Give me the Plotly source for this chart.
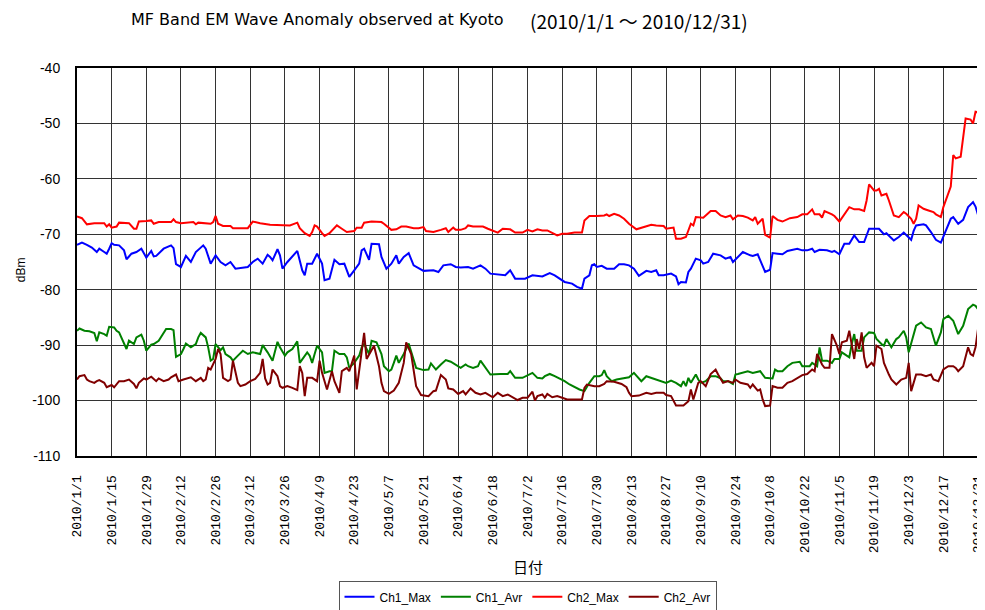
import pandas as pd
import plotly.graph_objects as go

START = "2010-01-01"

# Ch1_Max (blue)
ch1_max_day = [0,2,4,6,8,9,11,12,13,14,15,17,19,20,21,22,24,26,28,30,31,32,35,38,39,40,42,43,44,46,48,51,52,54,56,58,60,62,64,69,71,73,75,77,78,79,81,82,83,85,87,89,91,92,93,95,97,99,100,102,104,106,108,110,112,114,115,116,118,119,122,123,125,127,129,130,132,134,136,140,144,146,148,151,153,155,158,160,163,165,167,171,173,175,177,181,184,188,189,191,193,195,197,200,202,204,205,207,208,209,210,212,214,217,219,221,223,225,227,230,232,234,235,237,240,242,243,244,246,247,248,250,252,253,255,257,260,262,264,265,267,269,272,273,275,277,278,280,281,283,285,287,289,291,293,295,297,298,300,301,303,305,306,308,309,310,312,314,316,318,320,322,324,326,327,330,332,334,335,337,338,339,342,343,345,347,349,350,353,354,356,358,360,362,363,364]
ch1_max_dbm = [-71.9,-71.5,-71.9,-72.4,-73.2,-72.6,-73.2,-73.5,-72.6,-71.6,-71.9,-72.0,-72.9,-74.5,-74.0,-73.5,-73.2,-72.6,-74.2,-73.0,-74.0,-73.9,-72.6,-72.0,-72.5,-75.4,-75.9,-75.0,-73.9,-75.0,-73.2,-72.0,-72.6,-75.3,-73.8,-75.0,-75.6,-75.0,-76.2,-75.9,-75.0,-74.4,-75.3,-73.7,-74.1,-74.7,-72.7,-73.8,-76.2,-75.0,-74.0,-73.0,-76.5,-77.4,-75.3,-75.3,-73.5,-75.3,-78.3,-78.0,-74.6,-75.4,-75.3,-77.7,-76.5,-75.3,-72.9,-72.6,-74.6,-71.7,-71.8,-74.1,-76.2,-75.3,-73.8,-75.3,-74.1,-73.4,-75.6,-76.6,-76.5,-76.8,-75.6,-75.4,-75.9,-76.0,-75.9,-76.2,-75.6,-76.2,-77.1,-77.3,-77.4,-76.5,-78.0,-78.0,-77.4,-77.6,-77.4,-77.0,-77.4,-78.0,-78.6,-78.9,-79.5,-79.8,-78.0,-77.4,-75.6,-75.4,-75.9,-75.7,-76.2,-76.2,-75.4,-75.4,-75.6,-76.2,-77.5,-76.6,-76.8,-76.5,-77.4,-77.4,-77.1,-77.6,-79.0,-78.6,-78.7,-76.8,-76.2,-74.4,-74.7,-75.3,-75.0,-73.5,-73.8,-74.4,-74.1,-75.0,-74.0,-73.2,-73.8,-73.9,-73.6,-75.9,-76.8,-76.4,-73.4,-73.5,-73.6,-73.0,-72.8,-72.6,-72.9,-72.9,-72.6,-73.2,-72.8,-72.8,-72.9,-73.2,-73.0,-73.6,-72.6,-71.7,-71.7,-70.2,-71.4,-71.4,-69.0,-69.0,-69.0,-70.0,-69.8,-71.1,-70.5,-69.7,-70.1,-71.0,-69.4,-68.4,-68.2,-68.4,-69.6,-71.0,-71.5,-70.5,-67.2,-66.9,-68.1,-67.4,-65.1,-64.2,-65.0,-66.5]

# Ch1_Avr (green)
ch1_avr_day = [0,1,3,5,7,8,9,11,12,13,15,16,17,19,20,21,23,24,26,27,28,30,31,33,35,36,38,39,40,42,43,44,46,48,49,50,52,53,54,55,56,58,59,60,62,63,65,67,69,71,74,75,77,79,81,82,84,85,87,89,90,91,93,94,95,96,97,99,100,102,103,104,106,108,109,110,112,114,115,116,118,119,121,123,124,126,127,128,129,130,132,134,135,137,140,142,143,145,147,149,151,153,155,157,158,160,162,163,165,167,171,174,175,177,180,184,186,188,189,191,193,195,197,199,201,203,205,206,207,209,211,212,213,214,216,218,220,222,223,225,227,228,230,232,234,236,238,240,242,244,245,246,247,248,250,251,252,254,256,258,260,261,263,265,266,267,269,271,273,275,276,278,281,282,283,285,287,289,292,293,296,297,299,300,301,303,305,306,308,309,311,312,313,314,315,317,318,320,322,323,325,326,327,329,331,332,334,335,336,338,339,341,343,345,347,349,350,352,354,356,358,360,362,363,364]
ch1_avr_dbm = [-87.4,-87.0,-87.4,-87.5,-87.8,-89.3,-87.7,-88.0,-88.3,-86.7,-86.8,-87.4,-87.7,-89.5,-90.7,-89.2,-89.8,-88.6,-88.1,-89.2,-91.0,-89.9,-89.8,-89.2,-87.9,-87.1,-87.1,-87.3,-92.1,-91.6,-90.7,-89.7,-90.4,-89.8,-88.6,-87.8,-88.6,-90.4,-92.8,-92.5,-89.8,-90.9,-90.4,-91.6,-92.2,-92.8,-91.9,-91.0,-91.6,-91.3,-91.6,-90.0,-91.3,-92.8,-89.4,-90.4,-91.9,-91.3,-90.7,-89.3,-93.2,-92.5,-91.3,-91.9,-93.2,-91.6,-90.1,-91.3,-95.0,-94.7,-94.7,-91.0,-91.6,-91.6,-92.2,-94.1,-93.2,-91.9,-90.4,-89.8,-91.6,-89.2,-89.5,-91.6,-93.8,-94.7,-94.4,-93.2,-91.9,-93.2,-91.6,-89.7,-91.3,-94.1,-94.5,-94.4,-93.3,-94.4,-93.5,-92.7,-93.0,-93.5,-94.1,-93.5,-93.8,-94.1,-93.8,-92.8,-94.1,-95.3,-95.2,-95.2,-94.7,-95.9,-95.9,-95.0,-95.9,-96.0,-95.6,-95.2,-95.6,-96.0,-96.5,-97.1,-97.6,-98.0,-98.3,-97.4,-96.8,-95.6,-95.6,-95.4,-94.5,-95.6,-96.5,-96.2,-96.0,-95.9,-95.8,-95.0,-95.9,-96.5,-95.6,-95.9,-96.2,-96.5,-96.8,-96.4,-96.8,-97.4,-96.5,-97.4,-95.9,-96.8,-95.3,-96.2,-96.8,-96.5,-95.6,-95.6,-96.0,-96.5,-96.5,-97.0,-95.3,-95.2,-95.0,-94.7,-95.0,-94.8,-94.7,-95.9,-96.0,-94.4,-94.7,-94.7,-93.8,-93.2,-93.0,-93.8,-93.8,-93.2,-93.8,-90.4,-92.8,-92.8,-93.2,-92.5,-92.5,-91.3,-91.9,-92.2,-89.8,-88.0,-91.0,-91.0,-88.6,-87.7,-87.8,-88.9,-89.8,-90.1,-88.9,-90.4,-88.9,-88.6,-87.4,-88.6,-91.3,-88.3,-86.5,-85.9,-86.8,-87.1,-90.1,-87.7,-85.3,-84.7,-85.6,-88.0,-86.5,-83.5,-82.7,-82.9,-83.5]

# Ch2_Max (red)
ch2_max_day = [0,2,4,7,11,12,13,14,16,17,21,23,24,25,28,30,31,33,38,39,40,42,47,48,49,54,55,56,57,59,62,63,69,71,74,78,86,89,90,92,94,95,96,97,99,100,102,105,107,109,112,113,115,116,119,123,124,126,127,129,131,133,136,138,140,141,144,147,149,150,152,153,155,157,158,160,164,166,168,170,172,175,177,180,182,184,186,188,190,192,194,196,198,201,204,205,207,210,213,214,215,217,219,221,223,226,229,232,234,237,238,241,242,244,246,248,249,250,253,256,258,260,262,264,265,267,269,271,273,274,275,277,278,280,281,283,285,288,291,293,295,297,298,300,301,302,305,306,308,310,312,314,316,318,319,320,322,323,324,325,327,328,330,332,334,335,337,338,339,340,342,344,346,347,349,350,351,353,354,355,357,359,361,362,363,364]
ch2_max_dbm = [-66.8,-67.1,-68.2,-68.0,-68.0,-68.6,-68.2,-68.8,-68.6,-67.9,-68.0,-69.0,-69.0,-67.7,-67.6,-67.5,-68.1,-67.8,-67.8,-67.3,-67.8,-68.0,-67.8,-68.2,-67.9,-68.1,-67.8,-66.7,-68.1,-68.5,-68.5,-68.9,-68.9,-67.7,-68.0,-68.3,-68.4,-67.9,-68.9,-69.8,-70.3,-69.6,-68.4,-68.6,-69.8,-70.3,-69.8,-68.4,-69.0,-69.6,-69.4,-68.8,-68.8,-67.9,-67.7,-67.8,-68.1,-68.9,-69.2,-69.1,-68.6,-68.6,-68.9,-68.9,-68.7,-69.4,-69.6,-69.2,-68.9,-69.6,-68.8,-69.2,-69.2,-68.9,-68.4,-68.6,-68.6,-69.0,-69.3,-69.7,-69.0,-69.1,-69.7,-69.7,-69.2,-69.5,-69.1,-69.3,-69.3,-69.7,-70.2,-69.9,-69.9,-69.7,-69.7,-67.5,-66.7,-66.7,-66.6,-66.4,-66.7,-66.3,-66.6,-67.2,-68.1,-69.1,-68.7,-68.3,-68.4,-68.5,-69.0,-68.8,-70.8,-70.8,-70.5,-68.1,-68.4,-66.9,-67.0,-65.8,-65.8,-66.6,-66.9,-66.6,-67.3,-66.6,-66.7,-67.0,-67.5,-66.9,-68.1,-67.2,-70.1,-70.6,-66.7,-67.4,-67.7,-67.1,-66.9,-66.4,-66.4,-65.5,-66.4,-66.4,-67.0,-65.8,-66.4,-66.7,-67.7,-66.3,-65.1,-65.5,-65.5,-65.8,-63.9,-61.0,-62.1,-62.1,-61.8,-63.0,-62.7,-63.9,-66.6,-66.9,-66.0,-66.3,-67.2,-68.1,-67.2,-64.8,-65.4,-65.7,-66.0,-66.4,-66.9,-65.1,-63.9,-61.4,-55.7,-56.3,-56.0,-49.1,-49.3,-50.0,-47.9,-48.0]

# Ch2_Avr (dark red)
ch2_avr_day = [0,1,3,4,5,7,8,9,11,12,14,15,17,19,21,23,24,25,27,28,30,32,33,35,37,38,40,41,43,46,48,50,51,52,53,54,56,57,58,59,61,62,63,64,65,66,68,70,72,74,75,76,77,78,79,81,82,83,85,87,89,90,91,92,93,95,97,98,99,101,103,104,106,107,109,110,112,113,114,116,117,118,120,122,123,124,126,128,130,132,133,135,137,139,142,144,145,147,149,150,152,154,156,157,159,161,163,165,168,170,172,174,176,178,180,182,184,185,186,188,189,190,192,194,196,198,204,205,206,209,211,213,214,217,220,222,223,224,227,230,232,234,237,238,240,241,242,245,247,248,249,250,251,252,254,256,258,259,261,263,265,266,268,271,272,273,275,276,277,278,280,281,283,285,287,289,291,293,295,297,298,299,301,302,304,305,307,308,309,311,312,313,314,315,316,317,318,319,321,322,323,325,326,328,329,331,333,335,336,337,339,341,343,345,346,348,350,352,354,355,356,358,360,361,362,363,364]
ch2_avr_dbm = [-96.2,-95.6,-95.4,-96.2,-96.5,-96.8,-96.5,-96.3,-96.8,-97.6,-97.2,-97.6,-96.5,-96.5,-96.2,-97.0,-97.8,-96.8,-96.0,-96.2,-95.7,-96.5,-96.0,-96.5,-96.2,-95.8,-95.3,-96.5,-96.2,-95.8,-96.5,-95.9,-96.5,-96.2,-94.1,-94.4,-92.5,-90.7,-91.6,-95.9,-96.5,-96.2,-92.8,-94.6,-96.8,-97.4,-97.1,-96.5,-96.1,-95.0,-92.5,-96.0,-97.1,-96.8,-94.4,-95.6,-97.4,-97.7,-97.4,-97.7,-98.1,-93.8,-95.0,-99.2,-95.9,-95.9,-96.5,-92.8,-95.0,-98.0,-94.7,-96.5,-98.6,-94.7,-94.1,-94.7,-91.9,-98.0,-94.4,-87.8,-92.5,-91.6,-90.1,-93.8,-96.8,-98.3,-98.8,-98.2,-96.8,-93.2,-89.5,-91.6,-97.4,-99.0,-99.2,-98.3,-98.2,-95.4,-96.2,-97.8,-98.0,-98.8,-98.3,-98.9,-97.8,-98.6,-98.9,-98.6,-99.4,-98.6,-99.2,-98.9,-99.4,-99.9,-99.5,-99.5,-98.4,-100.0,-99.2,-98.9,-99.5,-98.8,-99.4,-99.2,-99.5,-99.8,-99.8,-97.7,-97.1,-97.4,-97.4,-97.0,-96.5,-96.6,-97.0,-97.6,-98.6,-99.2,-99.1,-98.6,-98.8,-98.6,-98.6,-99.0,-99.2,-100.0,-100.9,-100.9,-100.1,-98.0,-99.8,-98.3,-96.8,-96.5,-97.4,-95.2,-94.4,-95.3,-96.8,-96.5,-96.8,-96.2,-96.8,-97.1,-97.7,-97.1,-98.2,-98.0,-99.8,-101.0,-100.9,-97.4,-97.7,-97.7,-96.8,-96.5,-96.0,-95.4,-95.2,-94.4,-94.7,-91.6,-93.5,-94.1,-94.1,-88.0,-90.1,-91.6,-89.5,-89.2,-87.4,-89.8,-92.5,-88.9,-90.7,-87.7,-92.2,-94.1,-93.2,-93.8,-90.1,-90.7,-93.2,-95.3,-96.2,-97.1,-96.2,-95.9,-93.2,-98.3,-95.3,-95.3,-95.6,-95.3,-96.2,-96.5,-94.4,-93.8,-93.8,-94.1,-94.7,-93.8,-90.4,-91.6,-91.9,-90.4,-87.1]

# Axis ticks
x_tick_days = list(range(0, 365, 14))
x_tick_labels = ["2010/1/1", "2010/1/15", "2010/1/29", "2010/2/12", "2010/2/26", "2010/3/12",
                 "2010/3/26", "2010/4/9", "2010/4/23", "2010/5/7", "2010/5/21", "2010/6/4",
                 "2010/6/18", "2010/7/2", "2010/7/16", "2010/7/30", "2010/8/13", "2010/8/27",
                 "2010/9/10", "2010/9/24", "2010/10/8", "2010/10/22", "2010/11/5", "2010/11/19",
                 "2010/12/3", "2010/12/17", "2010/12/31"]
y_tick_vals = [-40, -50, -60, -70, -80, -90, -100, -110]
y_tick_labels = ["-40", "-50", "-60", "-70", "-80", "-90", "-100", "-110"]


def to_dates(days):
    return pd.Timestamp(START) + pd.to_timedelta(days, unit="D")


series = [
    ("Ch1_Max", ch1_max_day, ch1_max_dbm, "#0000FF"),
    ("Ch1_Avr", ch1_avr_day, ch1_avr_dbm, "#008000"),
    ("Ch2_Max", ch2_max_day, ch2_max_dbm, "#FF0000"),
    ("Ch2_Avr", ch2_avr_day, ch2_avr_dbm, "#800000"),
]

fig = go.Figure()
for name, d, v, c in series:
    fig.add_trace(go.Scatter(x=to_dates(d), y=v, mode="lines", name=name,
                             line=dict(color=c, width=2)))

# the page body adds an 8px offset, so the figure is 8px smaller on each axis
fig.update_layout(
    width=977, height=602,
    margin=dict(l=69, r=7, t=60, b=154, autoexpand=False),
    paper_bgcolor="white", plot_bgcolor="white",
    font=dict(family="Liberation Sans, Arial, sans-serif", color="black"),
    showlegend=True,
    legend=dict(orientation="h", x=0.5, xanchor="center", y=-0.363, yanchor="middle",
                bordercolor="#555", borderwidth=1, font=dict(size=12),
                itemwidth=30, tracegroupgap=0),
)

fig.update_xaxes(
    automargin=False,
    range=[to_dates(0), to_dates(364)],
    tickvals=to_dates(x_tick_days), ticktext=x_tick_labels,
    tickangle=-90, tickfont=dict(family="Liberation Mono, DejaVu Sans Mono, monospace", size=13),
    ticklabelstandoff=12, ticklabeloverflow="allow",
    showgrid=True, gridcolor="#333", gridwidth=1,
    showline=True, linecolor="black", linewidth=2, mirror=True,
    ticks="", zeroline=False,
)
fig.update_yaxes(
    automargin=False,
    range=[-110, -40], tickvals=y_tick_vals, ticktext=y_tick_labels,
    tickfont=dict(size=14), ticklabelstandoff=12, ticklabeloverflow="allow",
    showgrid=True, gridcolor="#333", gridwidth=1,
    showline=True, linecolor="black", linewidth=2, mirror=True,
    ticks="", zeroline=False,
)

fig.add_annotation(text="MF Band EM Wave Anomaly observed at Kyoto",
                   xref="paper", yref="paper", x=0.0577, y=1.124, xanchor="left", yanchor="middle",
                   showarrow=False, font=dict(family="DejaVu Sans", size=16))
fig.add_annotation(text="(2010/1/1 \uff5e 2010/12/31)",
                   xref="paper", yref="paper", x=0.5007, y=1.122, xanchor="left", yanchor="middle",
                   showarrow=False, font=dict(family="Noto Sans CJK JP", size=19))
fig.add_annotation(text="dBm", xref="paper", yref="paper", x=-0.072, y=0.479,
                   textangle=-90, showarrow=False, font=dict(size=12))
fig.add_annotation(text="日付", xref="paper", yref="paper", x=0.5, y=-0.285,
                   xanchor="center", yanchor="middle",
                   showarrow=False, font=dict(family="Noto Sans CJK JP", size=15))

fig.write_html("out.html")
